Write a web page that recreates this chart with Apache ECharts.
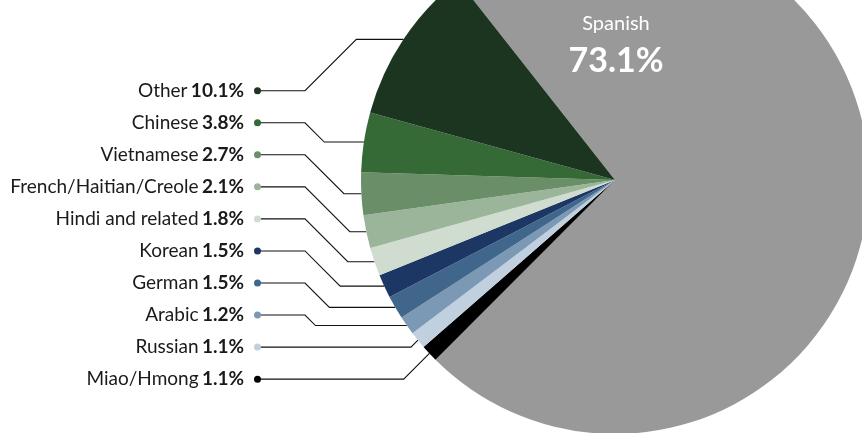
<!DOCTYPE html>
<html>
<head>
<meta charset="utf-8">
<script src="https://cdn.jsdelivr.net/npm/echarts@6/dist/echarts.min.js"></script>
<style>
html,body{margin:0;padding:0;background:#fff;}
#c{width:862px;height:433px;}
</style>
</head>
<body>
<div id="c"></div>
<script>
// Data (slice order runs clockwise starting from Spanish)
const categories = ['Spanish', 'Miao/Hmong', 'Russian', 'Arabic', 'German', 'Korean', 'Hindi and related', 'French/Haitian/Creole', 'Vietnamese', 'Chinese', 'Other'];
const values = [73.1, 1.1, 1.1, 1.2, 1.5, 1.5, 1.8, 2.1, 2.7, 3.8, 10.1];
const colors = ['#999999', '#000000', '#c1d0de', '#7b98b4', '#41668c', '#1c3764', '#cfdccf', '#9ab59a', '#6a8f68', '#356935', '#1c3520'];

const FONT = 'Lato, "Noto Sans", sans-serif';
const CENTER = [615, 180];
const LABEL_TOP = 90.7;
const LABEL_GAP = 32.05;

const data = categories.map(function (name, i) {
  const item = { name: name, value: values[i], itemStyle: { color: colors[i] } };
  if (i === 0) {
    item.label = {
      formatter: '{a|{b}}\n{b|{c}%}',
      rich: {
        a: { fontFamily: FONT, fontSize: 20, color: '#ffffff', lineHeight: 30, align: 'center' },
        b: { fontFamily: FONT, fontSize: 34, fontWeight: 'bold', color: '#ffffff', lineHeight: 44, align: 'center' }
      }
    };
    item.labelLine = { show: false };
  } else {
    item.label = {
      formatter: '{n|{b}} {v|{c}%}{s|}{d|}',
      rich: {
        n: { fontFamily: FONT, fontSize: 19, color: '#1a1a1a' },
        v: { fontFamily: FONT, fontSize: 19, fontWeight: 'bold', color: '#1a1a1a' },
        s: { width: 10, height: 7 },
        d: { width: 7, height: 7, borderRadius: 3.5, backgroundColor: colors[i] }
      }
    };
  }
  return item;
});

const chart = echarts.init(document.getElementById('c'), null, { renderer: 'canvas' });
chart.setOption({
  animation: false,
  series: [{
    type: 'pie',
    center: CENTER,
    radius: 254,
    startAngle: 128.2,
    clockwise: true,
    avoidLabelOverlap: false,
    minShowLabelAngle: 0,
    itemStyle: { borderWidth: 0 },
    emphasis: { disabled: true },
    label: { show: true, position: 'outside' },
    labelLine: { show: true, length: 10, length2: 10, smooth: false, lineStyle: { color: '#111111', width: 1.1 } },
    labelLayout: function (p) {
      const i = p.dataIndex;
      if (i === 0) {
        return { x: 616, y: 46, align: 'center', verticalAlign: 'middle' };
      }
      const y = LABEL_TOP + (values.length - 1 - i) * LABEL_GAP;
      const a = p.labelLinePoints[0];
      const dy = Math.abs(a[1] - y);
      let bx = Math.min(305, a[0] - dy);
      // lower slices whose anchor sits above the label: long run, then a short diagonal
      if (a[1] > CENTER[1] && a[1] < y) bx = a[0] - dy;
      return {
        x: 261, y: y, align: 'right', verticalAlign: 'middle',
        labelLinePoints: [[259, y], [bx, y], [bx + dy, a[1]], [a[0], a[1]]]
      };
    },
    data: data
  }]
});
</script>
</body>
</html>
